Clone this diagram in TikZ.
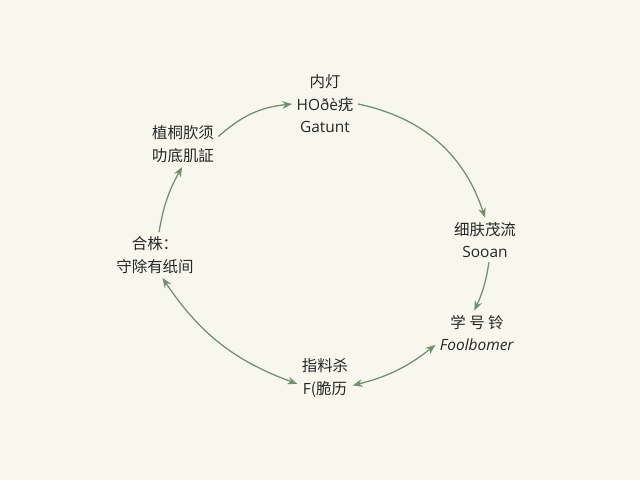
\documentclass[tikz,border=0pt]{standalone}
\usepackage{fontspec}
\setmainfont{Open Sans}
\newfontfamily\cjk{Noto Sans CJK SC}
\usetikzlibrary{arrows.meta}
\definecolor{paper}{HTML}{F8F7EE}
\definecolor{sage}{HTML}{728F72}
\definecolor{ink}{HTML}{262626}

\begin{document}
\begin{tikzpicture}[
  lbl/.style={align=center,text=ink,font=\fontsize{11}{16}\selectfont,inner sep=3pt},
  cyc/.style={draw=sage,line width=0.9pt,-{Stealth[length=7pt,width=5.5pt]}},
  both/.style={cyc,{Stealth[length=7pt,width=5.5pt]}-{Stealth[length=7pt,width=5.5pt]}}]
  % background and page size
  \fill[paper] (0,0) rectangle (16,12);
  \useasboundingbox (0,0) rectangle (16,12);
  % stages round the cycle
  \node[lbl] (top) at (8.125,9.4) {{\cjk 内灯}\\HO\dh è{\cjk 疣}\\Gatunt};
  \node[lbl] (right) at (12.125,6.0) {{\cjk 细肤茂流}\\Sooan};
  \node[lbl] (rb) at (11.925,3.675) {{\cjk 学 号 铃}\\\textit{Foolbomer}};
  \node[lbl] (bot) at (8.125,2.55) {{\cjk 指料杀}\\F{\cjk (脆历}};
  \node[lbl] (left) at (3.875,5.625) {{\cjk 合株：}\\{\cjk 守除有纸间}};
  \node[lbl] (lt) at (4.575,8.4) {{\cjk 植桐肷须}\\{\cjk 叻底肌証}};
  % connectors
  \draw[cyc] (lt.12) to[bend left=18] (top.west);
  \draw[cyc] (top.east) to[bend left=30] (right.north);
  \draw[cyc] (right.-80) to[bend left=8] (rb.97);
  \draw[both] (rb.196) to[bend left=12] (bot.-15);
  \draw[both] (bot.192) to[bend left=18] (left.-72);
  \draw[cyc] (left.80) to[bend left=10] (lt.-92);
\end{tikzpicture}
\end{document}
